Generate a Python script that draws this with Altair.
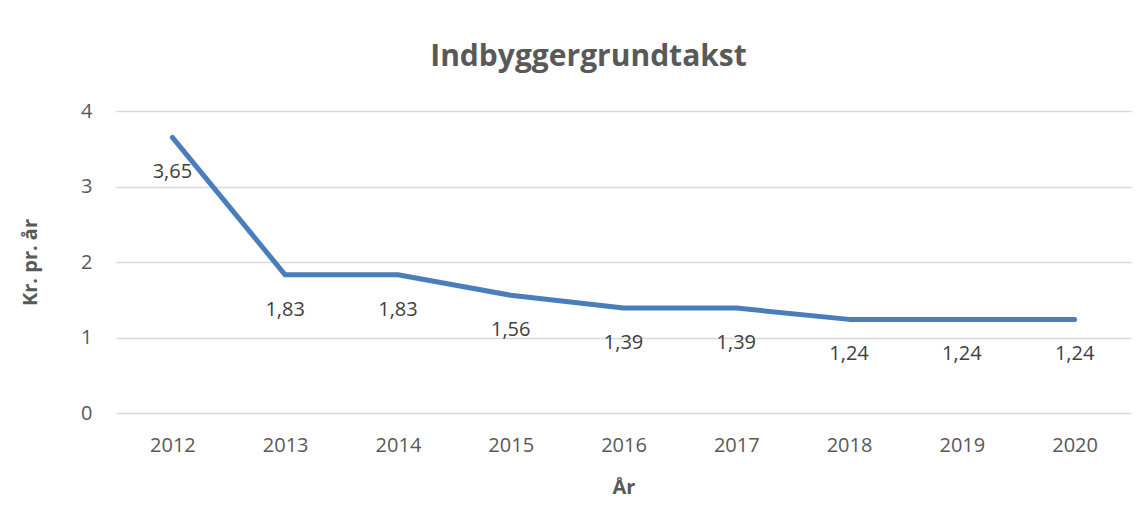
import altair as alt
import pandas as pd

years = ["2012", "2013", "2014", "2015", "2016", "2017", "2018", "2019", "2020"]
values = [3.65, 1.83, 1.83, 1.56, 1.39, 1.39, 1.24, 1.24, 1.24]

df = pd.DataFrame({
    "year": years,
    "value": values,
    "label": [f"{v:.2f}".replace(".", ",") for v in values],
})

FONT = "Open Sans"

base = alt.Chart(df).encode(
    x=alt.X("year:O", sort=years,
            axis=alt.Axis(title="År", labelAngle=0, ticks=False, domain=False,
                          labelPadding=22, titlePadding=22, grid=False)),
    y=alt.Y("value:Q", scale=alt.Scale(domain=[0, 4], nice=False),
            axis=alt.Axis(title="Kr. pr. år", values=[0, 1, 2, 3, 4], ticks=False,
                          domain=False, labelPadding=24, titlePadding=40,
                          gridColor="#D9D9D9", gridWidth=1.5)),
)

line = base.mark_line(color="#4A7EBB", strokeWidth=5, strokeCap="round", strokeJoin="round")
text = base.mark_text(dy=35, font=FONT, fontSize=20, color="#404040").encode(text="label:N")

chart = (line + text).properties(
    width=1015,
    height=302,
    padding={"left": 108, "top": 103, "right": 7, "bottom": 104},
    autosize=alt.AutoSizeParams(type="none"),
    background="white",
    title=alt.TitleParams("Indbyggergrundtakst", font=FONT, fontSize=30, fontWeight="bold",
                          color="#595959", offset=29, dx=-35, anchor="middle"),
).configure_axis(
    labelFont=FONT, labelFontSize=20, labelColor="#595959",
    titleFont=FONT, titleFontSize=20, titleFontWeight="bold", titleColor="#595959",
).configure_view(stroke=None)

chart.save("out.html", embed_options={"renderer": "svg", "actions": False})
